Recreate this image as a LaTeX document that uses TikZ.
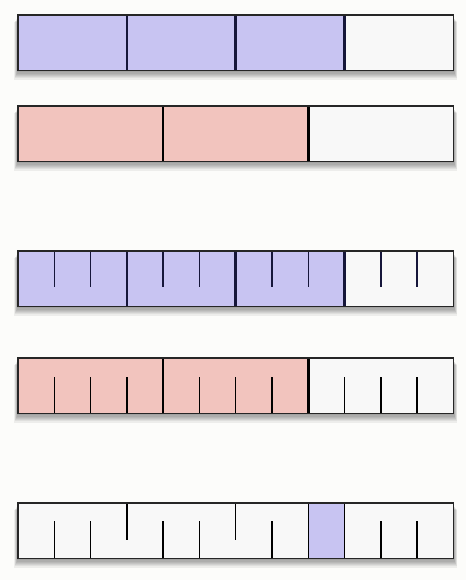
\documentclass[tikz,border=0pt]{standalone}
\usepackage{tikz}
\usetikzlibrary{calc, positioning}

\definecolor{lavender}{RGB}{200,196,242}
\definecolor{blush}{RGB}{242,196,190}
\definecolor{cellwhite}{RGB}{248,248,248}
\definecolor{paper}{RGB}{252,252,250}
\definecolor{inkblue}{RGB}{22,22,58}

\begin{document}
\begin{tikzpicture}[
        x=1pt, y=-1pt,
        barbox/.style={rectangle, fill=cellwhite, inner sep=0pt, anchor=north west, minimum width=435pt, minimum height=55pt},
        outline/.style={draw=black!85, line width=1.6pt},
        divider/.style={line width=2.6pt},
        tick/.style={line width=1.5pt}
    ]
        \useasboundingbox (0,0) rectangle (466,580);
        \fill[paper] (0,0) rectangle (466,580);

        % Soft shadows under the bars
        \foreach \top in {15,106,251,358,503}
            \foreach \d in {1,...,8}
                \fill[black, opacity=0.06] (18-\d*0.5, \top+2+\d*0.6) rectangle (453+\d*0.5, \top+55+\d*1.2);

        % Bars
        \node[barbox] (fourths) at (18,15) {};
        \node[barbox] (thirds) at (18,106) {};
        \node[barbox] (fourthsticked) at (18,251) {};
        \node[barbox] (thirdsticked) at (18,358) {};
        \node[barbox] (twelfths) at (18,503) {};

        % Shaded parts
        \fill[lavender] (fourths.north west) rectangle ($(fourths.south west)!0.75!(fourths.south east)$);
        \fill[blush] (thirds.north west) rectangle ($(thirds.south west)!2/3!(thirds.south east)$);
        \fill[lavender] (fourthsticked.north west) rectangle ($(fourthsticked.south west)!0.75!(fourthsticked.south east)$);
        \fill[blush] (thirdsticked.north west) rectangle ($(thirdsticked.south west)!2/3!(thirdsticked.south east)$);
        \fill[lavender] ($(twelfths.north west)!8/12!(twelfths.north east)$) rectangle ($(twelfths.south west)!9/12!(twelfths.south east)$);

        % Quarter and third dividers
        \foreach \k in {1,2,3} {
            \draw[divider, draw=inkblue] ($(fourths.north west)!\k/4!(fourths.north east)$) -- ($(fourths.south west)!\k/4!(fourths.south east)$);
            \draw[divider, draw=inkblue] ($(fourthsticked.north west)!\k/4!(fourthsticked.north east)$) -- ($(fourthsticked.south west)!\k/4!(fourthsticked.south east)$);
        }
        \foreach \k in {1,2} {
            \draw[divider, draw=black] ($(thirds.north west)!\k/3!(thirds.north east)$) -- ($(thirds.south west)!\k/3!(thirds.south east)$);
            \draw[divider, draw=black] ($(thirdsticked.north west)!\k/3!(thirdsticked.north east)$) -- ($(thirdsticked.south west)!\k/3!(thirdsticked.south east)$);
        }

        % Twelfth ticks
        \foreach \k in {1,2,4,5,7,8,10,11}
            \draw[tick, draw=inkblue] ($(fourthsticked.north west)!\k/12!(fourthsticked.north east)$) -- ++(0,36);
        \foreach \k in {1,2,3,5,6,7,9,10,11}
            \draw[tick, draw=black] ($(thirdsticked.south west)!\k/12!(thirdsticked.south east)$) -- ++(0,-36);
        \foreach \k in {1,2,4,5,7,10,11}
            \draw[tick, draw=black] ($(twelfths.south west)!\k/12!(twelfths.south east)$) -- ++(0,-37);
        \foreach \k in {3,6}
            \draw[tick, draw=black] ($(twelfths.north west)!\k/12!(twelfths.north east)$) -- ++(0,37);
        \foreach \k in {8,9}
            \draw[tick, draw=black] ($(twelfths.north west)!\k/12!(twelfths.north east)$) -- ($(twelfths.south west)!\k/12!(twelfths.south east)$);

        % Outlines
        \foreach \b in {fourths, thirds, fourthsticked, thirdsticked, twelfths}
            \draw[outline] (\b.north west) rectangle (\b.south east);
    \end{tikzpicture}
\end{document}
